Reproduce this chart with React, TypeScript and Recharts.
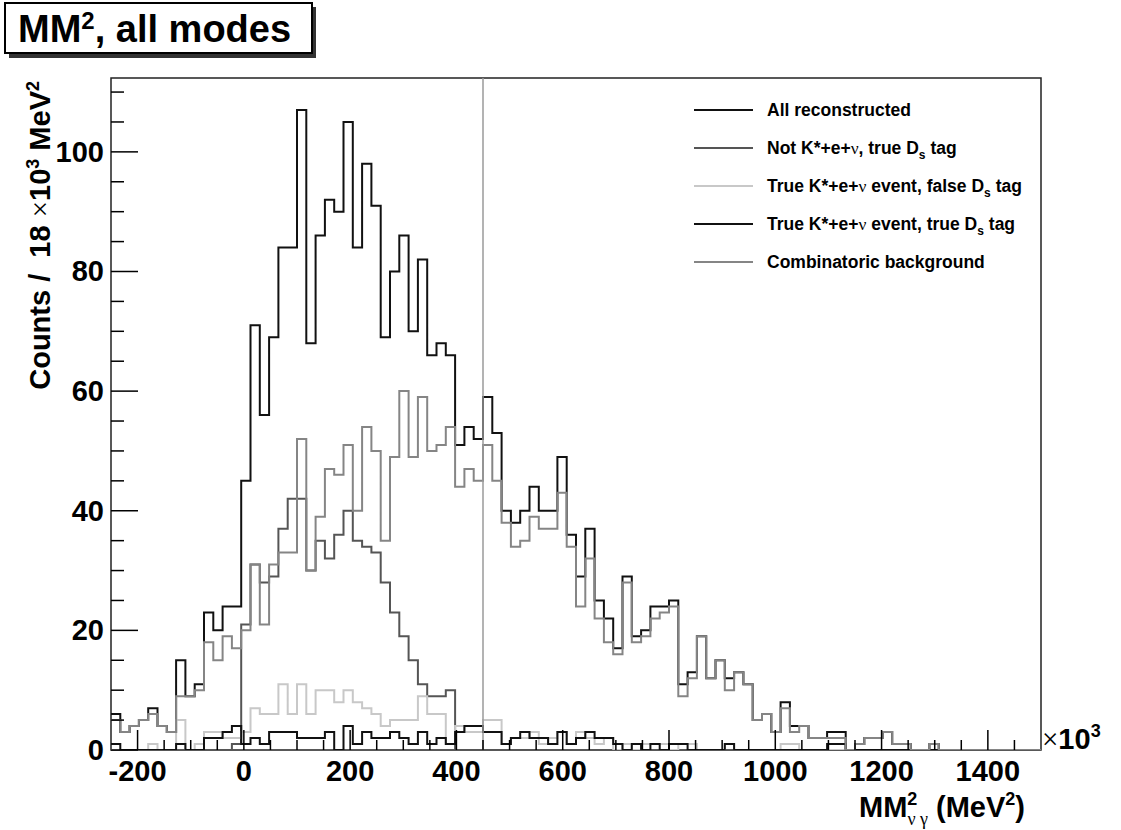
import React from "react";
import {
  ComposedChart,
  Line,
  XAxis,
  YAxis,
  ReferenceLine,
  ReferenceArea,
} from "recharts";

const FONT = "'Liberation Sans', Arial, Helvetica, sans-serif";
const GREEK = "'Liberation Serif', 'DejaVu Serif', serif";

const W = 1121;
const H = 830;
const PLOT = { left: 111, right: 1041, top: 78, bottom: 750 };
const X_AXIS_H = 40;
const Y_AXIS_W = 60;

// histogram range in units of 10^3 MeV^2
const X_MIN = -250;
const X_MAX = 1500;
const BIN_WIDTH = 17.5;
const Y_MAX = 112.35;
const CUT_MM2 = 450;

const xTicks = [
  -200, -150, -100, -50, 0, 50, 100, 150, 200, 250, 300, 350, 400, 450, 500,
  550, 600, 650, 700, 750, 800, 850, 900, 950, 1000, 1050, 1100, 1150, 1200,
  1250, 1300, 1350, 1400, 1450,
];
const yTicks = [
  0, 5, 10, 15, 20, 25, 30, 35, 40, 45, 50, 55, 60, 65, 70, 75, 80, 85, 90,
  95, 100, 105, 110,
];

// bin contents, 100 bins starting at -250
const allReconstructed = [
  6, 3, 4, 5, 7, 4, 3, 15, 9, 11, 23, 20, 24, 24, 45, 71, 56, 69, 84, 84,
  107, 68, 86, 92, 90, 105, 84, 98, 91, 69, 80, 86, 70, 82, 66, 68, 66, 51, 54, 52,
  59, 53, 40, 38, 40, 44, 40, 40, 49, 36, 29, 37, 25, 22, 17, 29, 19, 20, 24, 24,
  25, 11, 13, 19, 12, 15, 12, 13, 11, 5, 6, 3, 8, 4, 4, 2, 2, 3, 3, 0,
  1, 2, 2, 3, 1, 1, 0, 0, 1, 0, 0, 0, 0, 0, 0, 0, 0, 0, 0, 0,
];
const notKstarTrueTag = [
  0, 0, 0, 0, 0, 0, 0, 0, 0, 0, 0, 0, 0, 1, 21, 31, 28, 29, 37, 42,
  42, 30, 35, 32, 36, 40, 35, 34, 33, 28, 23, 19, 15, 11, 9, 9, 10, 0, 0, 0,
  0, 0, 0, 0, 0, 0, 0, 0, 0, 0, 0, 0, 0, 0, 0, 0, 0, 0, 0, 0,
  0, 0, 0, 0, 0, 0, 0, 0, 0, 0, 0, 0, 0, 0, 0, 0, 0, 0, 0, 0,
  0, 0, 0, 0, 0, 0, 0, 0, 0, 0, 0, 0, 0, 0, 0, 0, 0, 0, 0, 0,
];
const kstarFalseTag = [
  0, 0, 0, 0, 1, 0, 0, 5, 0, 1, 3, 3, 2, 2, 3, 7, 6, 6, 11, 6,
  11, 6, 10, 10, 8, 10, 8, 7, 6, 4, 5, 5, 5, 9, 6, 6, 1, 4, 3, 3,
  5, 5, 1, 2, 2, 3, 1, 2, 3, 1, 3, 2, 1, 2, 0, 1, 0, 1, 1, 1,
  0, 1, 1, 0, 0, 0, 1, 0, 0, 0, 0, 0, 1, 1, 0, 0, 0, 0, 0, 0,
  0, 0, 0, 0, 0, 0, 0, 0, 0, 0, 0, 0, 0, 0, 0, 0, 0, 0, 0, 0,
];
const kstarTrueTag = [
  1, 0, 0, 0, 0, 0, 0, 1, 0, 0, 2, 2, 3, 4, 1, 2, 1, 3, 3, 3,
  2, 2, 2, 3, 0, 4, 1, 3, 2, 2, 3, 2, 1, 3, 1, 2, 1, 3, 4, 4,
  3, 3, 1, 2, 3, 2, 2, 1, 3, 1, 2, 3, 2, 2, 1, 0, 1, 0, 1, 0,
  1, 1, 0, 0, 0, 0, 1, 0, 0, 0, 0, 0, 0, 0, 0, 0, 0, 1, 1, 0,
  0, 0, 0, 0, 0, 0, 0, 0, 0, 0, 0, 0, 0, 0, 0, 0, 0, 0, 0, 0,
];
const combinatoric = [
  5, 3, 4, 5, 6, 4, 3, 9, 9, 10, 18, 15, 19, 17, 20, 31, 21, 31, 33, 33,
  52, 30, 39, 47, 46, 51, 40, 54, 50, 35, 49, 60, 49, 59, 50, 51, 54, 44, 47, 45,
  51, 45, 38, 34, 35, 39, 37, 37, 43, 34, 24, 32, 22, 18, 16, 28, 18, 19, 22, 23,
  24, 9, 12, 19, 12, 15, 10, 13, 11, 5, 6, 3, 7, 3, 4, 2, 2, 2, 2, 0,
  1, 2, 2, 3, 1, 1, 0, 0, 1, 0, 0, 0, 0, 0, 0, 0, 0, 0, 0, 0,
];

const Nu = () => (
  <tspan fontFamily={GREEK} fontWeight={400}>
    ν
  </tspan>
);
const Ds = () => (
  <>
    D<tspan dy={5} fontSize={12}>s</tspan>
    <tspan dy={-5}> tag</tspan>
  </>
);

const series = [
  {
    key: "all",
    values: allReconstructed,
    color: "#111",
    label: <>All reconstructed</>,
  },
  {
    key: "notKstar",
    values: notKstarTrueTag,
    color: "#555",
    label: (
      <>
        Not K*+e+<Nu />, true <Ds />
      </>
    ),
  },
  {
    key: "falseTag",
    values: kstarFalseTag,
    color: "#c8c8c8",
    label: (
      <>
        True K*+e+<Nu /> event, false <Ds />
      </>
    ),
  },
  {
    key: "trueTag",
    values: kstarTrueTag,
    color: "#111",
    label: (
      <>
        True K*+e+<Nu /> event, true <Ds />
      </>
    ),
  },
  {
    key: "combinatoric",
    values: combinatoric,
    color: "#858585",
    label: <>Combinatoric background</>,
  },
];

// one row per bin edge; the last edge repeats the final bin so the step closes
const nBins = allReconstructed.length;
const rows = Array.from({ length: nBins + 1 }, (_, i) => {
  const bin = Math.min(i, nBins - 1);
  const row: Record<string, number> = { x: X_MIN + i * BIN_WIDTH };
  series.forEach((s) => {
    row[s.key] = s.values[bin];
  });
  return row;
});

// ROOT style: ticks point into the frame, labels only on major ticks
function XTick(props: any) {
  const { x, payload } = props;
  const v = payload.value as number;
  const major = v % 200 === 0;
  return (
    <g>
      <line
        x1={x}
        x2={x}
        y1={PLOT.bottom}
        y2={PLOT.bottom - (major ? 20 : 10)}
        stroke="#000"
        strokeWidth={1.5}
      />
      {major && (
        <text
          x={x}
          y={PLOT.bottom + 31}
          textAnchor="middle"
          fontFamily={FONT}
          fontWeight={700}
          fontSize={29}
          fill="#000"
        >
          {v}
        </text>
      )}
    </g>
  );
}

function YTick(props: any) {
  const { y, payload } = props;
  const v = payload.value as number;
  const major = v % 20 === 0;
  return (
    <g>
      <line
        x1={PLOT.left}
        x2={PLOT.left + (major ? 27 : 13)}
        y1={y}
        y2={y}
        stroke="#000"
        strokeWidth={1.5}
      />
      {major && (
        <text
          x={PLOT.left - 7}
          y={y + 10}
          textAnchor="end"
          fontFamily={FONT}
          fontWeight={700}
          fontSize={29}
          fill="#000"
        >
          {v}
        </text>
      )}
    </g>
  );
}

function Annotations() {
  const legendTop = 110;
  const legendStep = 38;
  return (
    <svg
      width={W}
      height={H}
      style={{ position: "absolute", left: 0, top: 0, pointerEvents: "none" }}
    >
      {/* title box with drop shadow */}
      <rect x={9} y={7} width={307} height={51} fill="#333" />
      <rect x={5} y={3} width={307} height={50} fill="#fff" stroke="#000" strokeWidth={2} />
      <text x={18} y={42} fontFamily={FONT} fontWeight={700} fontSize={38}>
        MM<tspan dy={-13} fontSize={24}>2</tspan>
        <tspan dy={13}>, all modes</tspan>
      </text>

      {/* y axis title */}
      <text
        transform={`translate(50, ${PLOT.top + 3}) rotate(-90)`}
        textAnchor="end"
        fontFamily={FONT}
        fontWeight={700}
        fontSize={29}
        style={{ whiteSpace: "pre" }}
      >
        {"Counts /  18 "}
        <tspan fontFamily={GREEK} fontWeight={400}>×</tspan>10
        <tspan dy={-11} fontSize={18}>3</tspan>
        <tspan dy={11}> MeV</tspan>
        <tspan dy={-11} fontSize={18}>2</tspan>
      </text>

      {/* x axis title */}
      <text
        x={PLOT.right - 16}
        y={817}
        textAnchor="end"
        fontFamily={FONT}
        fontWeight={700}
        fontSize={29}
        style={{ whiteSpace: "pre" }}
      >
        MM<tspan dy={-12} fontSize={18}>2</tspan>
        <tspan dx={-10} dy={20} fontSize={18} fontFamily={GREEK} fontWeight={400}>
          {"ν γ"}
        </tspan>
        <tspan dy={-8}>{" (MeV"}</tspan>
        <tspan dy={-12} fontSize={18}>2</tspan>
        <tspan dy={12}>)</tspan>
      </text>

      {/* axis exponent */}
      <text x={PLOT.right + 1} y={749} fontFamily={FONT} fontWeight={700} fontSize={29}>
        <tspan fontFamily={GREEK} fontWeight={400}>×</tspan>10
        <tspan dy={-12} fontSize={18}>3</tspan>
      </text>

      {/* legend */}
      {series.map((s, i) => {
        const y = legendTop + i * legendStep;
        return (
          <g key={s.key}>
            <line x1={694} x2={753} y1={y} y2={y} stroke={s.color} strokeWidth={2} />
            <text
              x={767}
              y={y + 6}
              fontFamily={FONT}
              fontWeight={700}
              fontSize={17.5}
              fill="#000"
              style={{ whiteSpace: "pre" }}
            >
              {s.label}
            </text>
          </g>
        );
      })}
    </svg>
  );
}

export default function App() {
  return (
    <div
      style={{
        position: "absolute",
        left: 0,
        top: 0,
        width: W,
        height: H,
        background: "#fff",
      }}
    >
      <ComposedChart
        width={W}
        height={H}
        data={rows}
        margin={{
          top: PLOT.top,
          right: W - PLOT.right,
          bottom: H - PLOT.bottom - X_AXIS_H,
          left: PLOT.left - Y_AXIS_W,
        }}
      >
        <XAxis
          dataKey="x"
          type="number"
          domain={[X_MIN, X_MAX]}
          ticks={xTicks}
          interval={0}
          allowDataOverflow
          height={X_AXIS_H}
          axisLine={false}
          tickLine={false}
          tick={(p: any) => <XTick {...p} />}
        />
        <YAxis
          type="number"
          domain={[0, Y_MAX]}
          ticks={yTicks}
          interval={0}
          allowDataOverflow
          width={Y_AXIS_W}
          axisLine={false}
          tickLine={false}
          tick={(p: any) => <YTick {...p} />}
        />
        {series.map((s) => (
          <Line
            key={s.key}
            type="stepAfter"
            dataKey={s.key}
            stroke={s.color}
            strokeWidth={2}
            dot={false}
            activeDot={false}
            isAnimationActive={false}
          />
        ))}
        <ReferenceLine x={CUT_MM2} stroke="#9a9a9a" strokeWidth={1.5} />
        <ReferenceArea
          x1={X_MIN}
          x2={X_MAX}
          y1={0}
          y2={Y_MAX}
          fill="none"
          stroke="#222"
          strokeWidth={1.5}
        />
      </ComposedChart>
      <Annotations />
    </div>
  );
}
